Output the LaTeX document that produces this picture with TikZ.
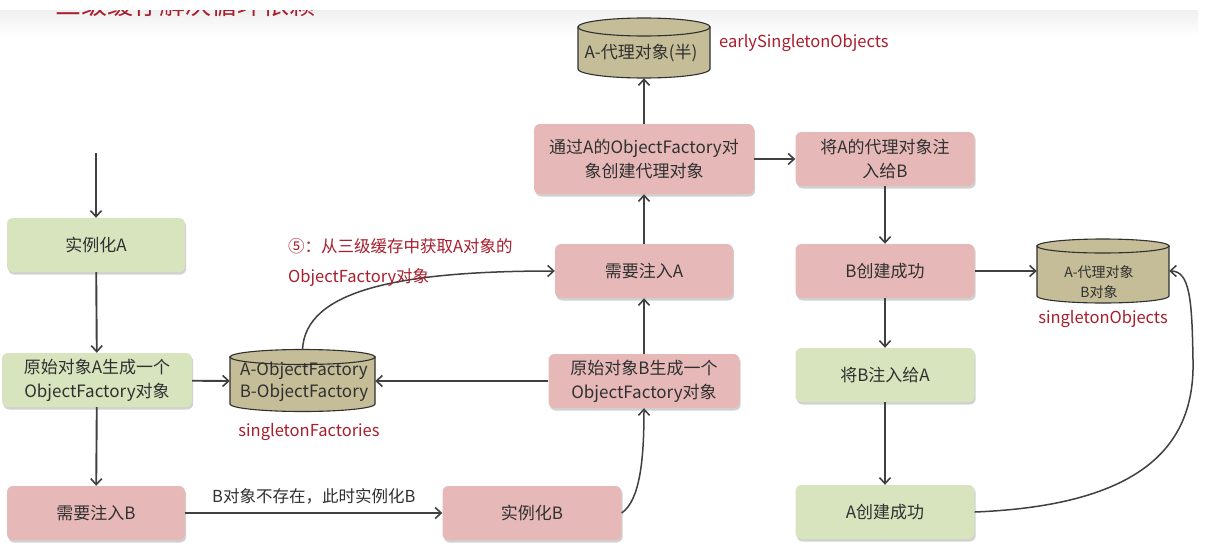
\documentclass[tikz,border=0pt]{standalone}
\usepackage{fontspec}
\setmainfont{Noto Sans CJK SC}
\usetikzlibrary{arrows.meta,shadows}

\definecolor{boxpink}{HTML}{E6B9B8}
\definecolor{boxgreen}{HTML}{D7E4BD}
\definecolor{drumfill}{HTML}{C4BD97}
\definecolor{lblred}{RGB}{168,30,45}
\definecolor{inkgray}{HTML}{303030}
\definecolor{arrowgray}{HTML}{404040}

% cylinder body: centre x, half width, top y, bottom y, ellipse half height
\newcommand\drawdrum[5]{%
  \filldraw[drum] (#1-#2,#3) -- (#1-#2,#4)
    arc[start angle=180,end angle=360,x radius=#2pt,y radius=#5pt]
    -- (#1+#2,#3) -- cycle;
  \filldraw[drum] (#1,#3) ellipse[x radius=#2pt,y radius=#5pt];
}

\begin{document}
\begin{tikzpicture}[x=1pt,y=-1pt,
  every node/.style={text=inkgray},
  flowbox/.style={rectangle, rounded corners=6pt, draw=none,
    minimum height=54pt, align=center, inner sep=2pt,
    font=\fontsize{17}{24}\selectfont,
    drop shadow={shadow xshift=1.2pt,shadow yshift=-2.5pt,opacity=0.18,fill=black}},
  pinkbox/.style={flowbox, fill=boxpink},
  greenbox/.style={flowbox, fill=boxgreen},
  drum/.style={fill=drumfill, draw=inkgray, line width=1.1pt},
  drumtext/.style={font=\fontsize{17}{22}\selectfont, align=center, inner sep=0pt},
  anchorbox/.style={rectangle, draw=none, inner sep=0pt},
  redlabel/.style={text=lblred, font=\fontsize{16.5}{30}\selectfont, inner sep=0pt},
  flow/.style={draw=arrowgray, line width=1.9pt,
    -{Straight Barb[length=6pt,width=11pt,line width=1.6pt]}},
  curveflow/.style={draw=arrowgray, line width=1.5pt,
    -{Straight Barb[length=6pt,width=11pt,line width=1.5pt]}},
]
\useasboundingbox (0,0) rectangle (1208,552);
\fill[white] (0,0) rectangle (1208,552);

% heading strip with the title cut off by its upper edge
\shade[top color=black!6, bottom color=white] (0,10) rectangle (1198,36);
\begin{scope}
  \clip (0,10) rectangle (1208,40);
  \node[text=lblred, font=\fontsize{26}{30}\selectfont, anchor=base west, inner sep=0pt]
    (title) at (55,14) {三级缓存解决循环依赖};
\end{scope}

% process steps
\node[greenbox, minimum width=178pt] (instA) at (96,245) {实例化A};
\node[greenbox, minimum width=190pt] (origA) at (97,380) {原始对象A生成一个\\ObjectFactory对象};
\node[pinkbox, minimum width=178pt] (needB) at (96,513) {需要注入B};
\node[pinkbox, minimum width=179pt] (instB) at (532,513) {实例化B};
\node[pinkbox, minimum width=191pt] (origB) at (644,381) {原始对象B生成一个\\ObjectFactory对象};
\node[pinkbox, minimum width=178pt] (needA) at (644,271) {需要注入A};
\node[pinkbox, minimum width=220pt, minimum height=70pt] (proxy) at (644,159) {通过A的ObjectFactory对\\象创建代理对象};
\node[pinkbox, minimum width=179pt] (injProxy) at (885,159) {将A的代理对象注\\入给B};
\node[pinkbox, minimum width=179pt] (bDone) at (885,271) {B创建成功};
\node[greenbox, minimum width=179pt] (injB) at (885,375) {将B注入给A};
\node[greenbox, minimum width=179pt] (aDone) at (885,512) {A创建成功};

% caches
\drawdrum{302.5}{72.5}{357}{404}{7.5}
\node[anchorbox, minimum width=145pt, minimum height=62pt] (factories) at (302.5,381) {};
\node[drumtext] (factoriesTxt) at (304,382) {A-ObjectFactory\\B-ObjectFactory};
\node[redlabel] (factoriesLbl) at (309,432) {singletonFactories};

\drawdrum{644}{66}{27}{69}{9}
\node[anchorbox, minimum width=132pt, minimum height=60pt] (early) at (644,48) {};
\node[drumtext] (earlyTxt) at (641,53) {A-代理对象(半)};
\node[redlabel, anchor=west] (earlyLbl) at (719,43) {earlySingletonObjects};

\drawdrum{1103}{66}{246}{296}{7}
\node[anchorbox, minimum width=132pt, minimum height=64pt] (objects) at (1103,271) {};
\node[drumtext, font=\fontsize{14}{20}\selectfont] (objectsTxt) at (1099,282) {A-代理对象\\B对象};
\node[redlabel] (objectsLbl) at (1103,319) {singletonObjects};

% connectors
\coordinate (entry) at (96,153);
\draw[flow] (entry) -- (instA.north);
\draw[flow] (instA) -- (origA);
\draw[flow] (origA) -- (factories.west);
\draw[flow] (origA) -- (needB);
\draw[flow] (needB) -- node[above=8pt, font=\fontsize{16.5}{20}\selectfont, inner sep=0pt]
  (missLbl) {B对象不存在，此时实例化B} (instB);
\draw[curveflow] (instB.east) .. controls (640,500) and (644,460) .. (origB.south);
\draw[flow] (origB.west) -- (factories.east);
\draw[flow] (origB) -- (needA);
\draw[curveflow] (factories.north) .. controls (305,290) and (400,271) .. (needA.west);
\node[redlabel, anchor=north west, align=left] (fetchLbl) at (288,238)
  {⑤：从三级缓存中获取A对象的\\ObjectFactory对象};
\draw[flow] (needA) -- (proxy);
\draw[flow] (proxy) -- (early.south);
\draw[flow] (proxy) -- (injProxy);
\draw[flow] (injProxy) -- (bDone);
\draw[flow] (bDone) -- (objects.west);
\draw[flow] (bDone) -- (injB);
\draw[flow] (injB) -- (aDone);
\coordinate (bend) at (1193,360);
\draw[curveflow] (aDone.east) .. controls (1150,505) and (1195,440) .. (bend)
  .. controls (1192,300) and (1190,271) .. (objects.east);
\end{tikzpicture}
\end{document}
